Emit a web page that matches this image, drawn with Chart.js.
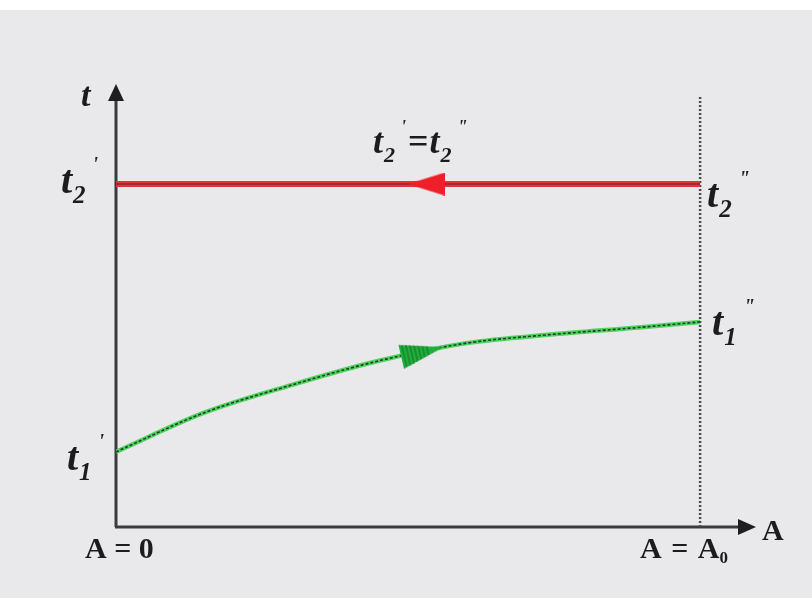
<!DOCTYPE html>
<html>
<head>
<meta charset="utf-8">
<title>t – A diagram</title>
<script src="https://cdn.jsdelivr.net/npm/chart.js@4/dist/chart.umd.min.js"></script>
<style>
  html, body { margin: 0; padding: 0; background: #e9e9eb; }
  #wrap { width: 812px; height: 598px; position: relative; }
</style>
</head>
<body>
<div id="wrap"><canvas id="diagram" width="812" height="598"></canvas></div>
<script>
/* data (A in units of A0, t in % of axis height) */
const aPoints = [0, 0.15, 0.3, 0.45, 0.6, 0.75, 0.9, 1.0];
const t1Values = [17.0, 25.8, 32.1, 37.6, 41.6, 43.6, 45.2, 46.4];
const t2Value = 77.6;
const aEnd = 1.0;
const aMax = 1.094;
const tMax = 100;
const dottedTop = 97.7;
const redArrowA = 0.531;
const greenArrow = { a: 0.525, t: 39.6 };

const SERIF = '"Liberation Serif", "DejaVu Serif", serif';

// small canvases used as point styles for the two flow arrows
function makeArrow(w, h, color, pointLeft, hatch) {
  const c = document.createElement('canvas');
  c.width = w; c.height = h;
  const g = c.getContext('2d');
  g.fillStyle = color;
  g.beginPath();
  if (pointLeft) {
    g.moveTo(0, h / 2); g.lineTo(w, 0); g.lineTo(w, h);
  } else {
    g.moveTo(0, 0); g.lineTo(w, h / 2); g.lineTo(0, h);
  }
  g.closePath();
  g.fill();
  if (hatch) {
    g.strokeStyle = 'rgba(20,60,25,0.55)';
    g.lineWidth = 1;
    for (let x = 3; x < w * 0.7; x += 4) {
      g.beginPath(); g.moveTo(x, 2); g.lineTo(x, h - 2); g.stroke();
    }
    g.globalCompositeOperation = 'destination-in';
    g.beginPath(); g.moveTo(0, 0); g.lineTo(w, h / 2); g.lineTo(0, h); g.closePath(); g.fill();
  }
  return c;
}

function drawRich(ctx, x, y, parts) {
  parts.forEach(p => {
    ctx.font = `${p.upright ? '' : 'italic '}bold ${p.size}px ${SERIF}`;
    ctx.fillText(p.text, x, y + (p.dy || 0));
    x += ctx.measureText(p.text).width + (p.gap || 0);
  });
}

function tLabel(idx, primes, size) {
  return [
    { text: 't', size: size, gap: 1 },
    { text: idx, size: Math.round(size * 0.62), dy: Math.round(size * 0.24), gap: Math.round(size * 0.18) },
    { text: primes, size: Math.round(size * 0.5), dy: -Math.round(size * 0.55), gap: 2 }
  ];
}

/* ------------------------------------------------
   plugins: paper background, axes with arrows, labels
------------------------------------------------ */
const paperPlugin = {
  id: 'paper',
  beforeDraw(chart) {
    const ctx = chart.ctx;
    ctx.save();
    ctx.fillStyle = '#e9e9eb';
    ctx.fillRect(0, 0, chart.width, chart.height);
    ctx.fillStyle = '#ffffff';
    ctx.fillRect(0, 0, chart.width, 10);
    ctx.restore();
  }
};

const axesPlugin = {
  id: 'axesArrows',
  beforeDatasetsDraw(chart) {
    const { ctx, scales: { x, y }, chartArea } = chart;
    const x0 = x.getPixelForValue(0);
    const y0 = y.getPixelForValue(0);
    const yTop = chartArea.top - 1;
    const xRight = chartArea.right + 1;

    ctx.save();
    ctx.strokeStyle = '#3b3a3c';
    ctx.fillStyle = '#1e1d1f';
    ctx.lineWidth = 3;
    ctx.beginPath();
    ctx.moveTo(x0, y0); ctx.lineTo(x0, yTop + 12);
    ctx.moveTo(x0 - 1, y0); ctx.lineTo(xRight - 12, y0);
    ctx.stroke();

    ctx.beginPath();
    ctx.moveTo(x0, yTop); ctx.lineTo(x0 - 8, yTop + 17); ctx.lineTo(x0 + 8, yTop + 17);
    ctx.closePath(); ctx.fill();
    ctx.beginPath();
    ctx.moveTo(xRight, y0); ctx.lineTo(xRight - 18, y0 - 8); ctx.lineTo(xRight - 18, y0 + 8);
    ctx.closePath(); ctx.fill();
    ctx.restore();
  }
};

const labelPlugin = {
  id: 'labels',
  afterDraw(chart) {
    const { ctx, scales: { x, y } } = chart;
    const x0 = x.getPixelForValue(0);
    const xEnd = x.getPixelForValue(aEnd);
    const y0 = y.getPixelForValue(0);
    const y2 = y.getPixelForValue(t2Value);
    const y1L = y.getPixelForValue(t1Values[0]);
    const y1R = y.getPixelForValue(t1Values[t1Values.length - 1]);

    ctx.save();
    ctx.fillStyle = '#1c1b1d';
    ctx.textBaseline = 'alphabetic';

    drawRich(ctx, x0 - 35, 106, [{ text: 't', size: 34 }]);
    drawRich(ctx, x0 - 55, y2 + 9, tLabel('2', "'", 40));
    drawRich(ctx, x0 - 49, y1L + 18, tLabel('1', "'", 40));
    drawRich(ctx, xEnd + 7, y2 + 23, tLabel('2', '"', 40));
    drawRich(ctx, xEnd + 12, y1R + 13, tLabel('1', '"', 40));

    const top = [].concat(
      tLabel('2', "'", 36),
      [{ text: '=', size: 36, upright: true, gap: 1 }],
      tLabel('2', '"', 36)
    );
    drawRich(ctx, 373, 153, top);

    drawRich(ctx, x0 - 31, y0 + 31, [{ text: 'A = 0', size: 30, upright: true }]);
    drawRich(ctx, xEnd - 60, y0 + 31, [
      { text: 'A', size: 30, upright: true, gap: 2 },
      { text: ' = ', size: 30, upright: true, gap: 2 },
      { text: 'A', size: 30, upright: true },
      { text: '0', size: 17, upright: true, dy: 5 }
    ]);
    drawRich(ctx, 762, y0 + 13, [{ text: 'A', size: 30, upright: true }]);
    ctx.restore();
  }
};

/* ------------------------------------------------
   datasets
------------------------------------------------ */
const t1Curve = aPoints.map((a, i) => ({ x: a, y: t1Values[i] }));
const t2Line = [{ x: 0, y: t2Value }, { x: aEnd, y: t2Value }];
const endLine = [{ x: aEnd, y: 0 }, { x: aEnd, y: dottedTop }];

const redArrow = makeArrow(37, 23, '#ee1f2b', true, false);
const greenArrowImg = makeArrow(44, 25, '#1fae3c', false, true);

new Chart(document.getElementById('diagram'), {
  type: 'scatter',
  data: {
    datasets: [
      {
        data: endLine, showLine: true, pointRadius: 0,
        borderColor: '#4a494c', borderWidth: 2.5, borderDash: [2, 2], order: 9
      },
      {
        data: t2Line, showLine: true, pointRadius: 0,
        borderColor: '#e2343a', borderWidth: 6, order: 8
      },
      {
        data: t2Line, showLine: true, pointRadius: 0,
        borderColor: '#8a2a30', borderWidth: 1.5, order: 7
      },
      {
        data: t1Curve, showLine: true, pointRadius: 0, cubicInterpolationMode: 'monotone',
        borderColor: '#4fd35e', borderWidth: 4.5, order: 6
      },
      {
        data: t1Curve, showLine: true, pointRadius: 0, cubicInterpolationMode: 'monotone',
        borderColor: '#1f3e2a', borderWidth: 1.6, borderDash: [3, 2], order: 5
      },
      {
        data: [{ x: redArrowA, y: t2Value }], pointStyle: redArrow, pointRadius: 5, order: 2
      },
      {
        data: [{ x: greenArrow.a, y: greenArrow.t }], pointStyle: greenArrowImg,
        pointRadius: 5, rotation: -13, order: 1
      }
    ]
  },
  options: {
    responsive: false,
    animation: false,
    events: [],
    layout: { padding: { left: 116, top: 85, right: 57, bottom: 71 } },
    plugins: { legend: { display: false }, tooltip: { enabled: false } },
    scales: {
      x: { type: 'linear', min: 0, max: aMax, display: false },
      y: { type: 'linear', min: 0, max: tMax, display: false }
    }
  },
  plugins: [paperPlugin, axesPlugin, labelPlugin]
});
</script>
</body>
</html>
